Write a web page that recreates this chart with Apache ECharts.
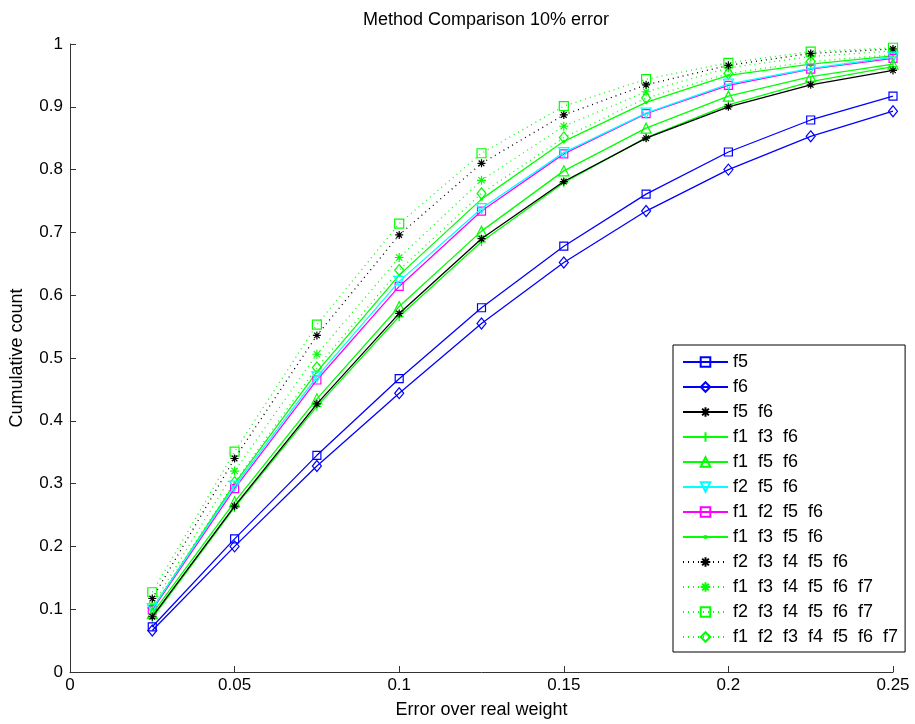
<!DOCTYPE html>
<html>
<head>
<meta charset="utf-8">
<script src="https://cdn.jsdelivr.net/npm/echarts@6/dist/echarts.min.js"></script>
<style>
  html, body { margin: 0; padding: 0; background: #fff; }
  #main { width: 915px; height: 724px; }
</style>
</head>
<body>
<div id="main"></div>
<script>
var xs = [0.025, 0.05, 0.075, 0.1, 0.125, 0.15, 0.175, 0.2, 0.225, 0.25];

var names = ['f5', 'f6', 'f5  f6', 'f1  f3  f6', 'f1  f5  f6', 'f2  f5  f6', 'f1  f2  f5  f6',
    'f1  f3  f5  f6', 'f2  f3  f4  f5  f6', 'f1  f3  f4  f5  f6  f7', 'f2  f3  f4  f5  f6  f7',
    'f1  f2  f3  f4  f5  f6  f7'];

var f5 = [0.072, 0.212, 0.345, 0.467, 0.580, 0.678, 0.761, 0.828, 0.879, 0.917];
var f6 = [0.066, 0.200, 0.328, 0.444, 0.555, 0.652, 0.734, 0.800, 0.853, 0.893];
var f5f6 = [0.088, 0.264, 0.427, 0.571, 0.690, 0.781, 0.850, 0.900, 0.935, 0.958];
var f1f3f6 = [0.086, 0.262, 0.423, 0.566, 0.685, 0.779, 0.851, 0.903, 0.940, 0.964];
var f1f5f6 = [0.093, 0.271, 0.435, 0.582, 0.702, 0.798, 0.866, 0.917, 0.948, 0.968];
var f2f5f6 = [0.101, 0.296, 0.470, 0.622, 0.738, 0.827, 0.890, 0.936, 0.961, 0.979];
var f1f2f5f6 = [0.099, 0.292, 0.465, 0.614, 0.734, 0.825, 0.889, 0.934, 0.960, 0.977];
var f1f3f5f6 = [0.100, 0.300, 0.478, 0.632, 0.753, 0.845, 0.907, 0.950, 0.968, 0.981];
var f2f3f4f5f6 = [0.117, 0.340, 0.536, 0.696, 0.810, 0.887, 0.935, 0.966, 0.985, 0.992];
var f1f3f4f5f6f7 = [0.106, 0.320, 0.506, 0.660, 0.783, 0.869, 0.924, 0.962, 0.980, 0.989];
var f2f3f4f5f6f7 = [0.127, 0.351, 0.553, 0.714, 0.826, 0.901, 0.944, 0.970, 0.988, 0.994];
var f1to7 = [0.102, 0.302, 0.485, 0.640, 0.762, 0.851, 0.914, 0.953, 0.972, 0.983];

var values = [f5, f6, f5f6, f1f3f6, f1f5f6, f2f5f6, f1f2f5f6, f1f3f5f6, f2f3f4f5f6, f1f3f4f5f6f7, f2f3f4f5f6f7, f1to7];
var colors = ['#0000ff', '#0000ff', '#000000', '#00ff00', '#00ff00', '#00ffff', '#ff00ff', '#00ff00', '#000000', '#00ff00', '#00ff00', '#00ff00'];
var dotted = [false, false, false, false, false, false, false, false, true, true, true, true];

// marker shapes (matlab style, unfilled)
var mSquare = 'path://M-1,-1L1,-1L1,1L-1,1Z';
var mDiamond = 'path://M0,-1.3L1,0L0,1.3L-1,0Z';
var mStar = 'path://M0,-1L0,1M-1,0L1,0M-0.7,-0.7L0.7,0.7M-0.7,0.7L0.7,-0.7';
var mPlus = 'path://M0,-1L0,1M-1,0L1,0';
var mUp = 'path://M0,-1L1,0.8L-1,0.8Z';
var mDown = 'path://M0,1L1,-0.8L-1,-0.8Z';
// small dot, padded with empty moves so the legend draws it small too
var mDot = 'path://M-5,-5M5,5M-0.8,-0.8L0.8,-0.8L0.8,0.8L-0.8,0.8Z';
var markers = [mSquare, mDiamond, mStar, mPlus, mUp, mDown, mSquare, mDot, mStar, mStar, mSquare, mDiamond];
var sizes = [8, [9, 11], 8, 9, 10, 10, 8, 14, 8, 9, 9, [9, 11]];

var myChart = echarts.init(document.getElementById('main'));
var font = 'Liberation Sans, Arial, sans-serif';

var series = [];
for (var i = 0; i < names.length; i++) {
    var d = [];
    for (var j = 0; j < xs.length; j++) {
        d.push([xs[j], values[i][j]]);
    }
    var c = colors[i];
    series.push({
        name: names[i],
        type: 'line',
        data: d,
        symbol: markers[i],
        symbolSize: sizes[i],
        showAllSymbol: true,
        animation: false,
        lineStyle: { color: c, width: 1.3, type: dotted[i] ? [1, 4] : 'solid' },
        itemStyle: markers[i] == mDot ? { color: c, borderColor: c, borderWidth: 0.5 } : { color: 'none', borderColor: c, borderWidth: 1.2 },
        emphasis: { disabled: true },
        z: 12 - i
    });
}

myChart.setOption({
    backgroundColor: '#fff',
    animation: false,
    title: {
        text: 'Method Comparison 10% error',
        left: 481,
        textAlign: 'center',
        top: 6,
        textStyle: { fontFamily: font, fontSize: 18, fontWeight: 'normal', color: '#000' }
    },
    grid: { left: 69, right: 22, top: 44, bottom: 50 },
    legend: {
        orient: 'vertical',
        left: 673,
        top: 345,
        itemWidth: 45,
        itemHeight: 12,
        itemGap: 7,
        padding: [8, 7, 6, 9],
        borderColor: '#000',
        borderWidth: 1,
        backgroundColor: '#fff',
        selectedMode: false,
        textStyle: { fontFamily: font, fontSize: 18, color: '#000' },
        data: names
    },
    xAxis: {
        type: 'value',
        min: 0,
        max: 0.25,
        interval: 0.05,
        name: 'Error over real weight',
        nameLocation: 'middle',
        nameGap: 29,
        nameTextStyle: { fontFamily: font, fontSize: 18, color: '#000' },
        axisLine: { lineStyle: { color: '#333', width: 1 } },
        axisTick: { inside: true, length: 6, lineStyle: { color: '#333' } },
        axisLabel: { fontFamily: font, fontSize: 17, color: '#000', margin: 5 },
        splitLine: { show: false }
    },
    yAxis: {
        type: 'value',
        min: 0,
        max: 1,
        interval: 0.1,
        name: 'Cumulative count',
        nameLocation: 'middle',
        nameGap: 44,
        nameTextStyle: { fontFamily: font, fontSize: 18, color: '#000' },
        axisLine: { show: true, lineStyle: { color: '#333', width: 1 } },
        axisTick: { show: true, inside: true, length: 6, lineStyle: { color: '#333' } },
        axisLabel: { fontFamily: font, fontSize: 17, color: '#000', margin: 7 },
        splitLine: { show: false }
    },
    series: series
});
</script>
</body>
</html>
